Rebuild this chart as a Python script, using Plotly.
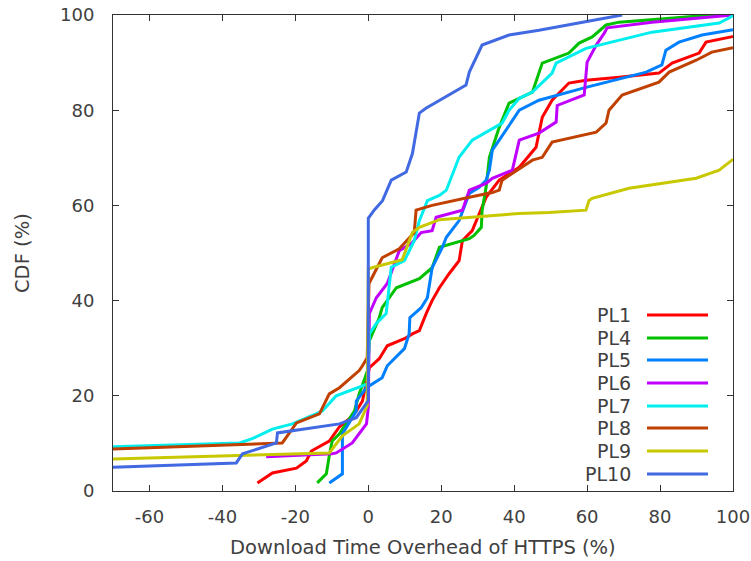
import plotly.graph_objects as go

# ---------------- data ----------------
series_names = ["PL1", "PL4", "PL5", "PL6", "PL7", "PL8", "PL9", "PL10"]
series_colors = ["#ff0000", "#00c000", "#0080ff", "#c000ff",
                 "#00eeee", "#c04000", "#c8c800", "#4169e1"]

pl1_x = [-30.4, -26.3, -19.7, -17.0, -15.6, -10.7, -7.9, -5.2, -3.3, -1.6, 0.3, 3.0, 5.2,
         9.9, 12.1, 14.0, 15.9, 17.5, 19.5, 22.2, 24.9, 25.8, 28.5, 30.4, 32.3, 35.9, 41.4,
         46.0, 47.7, 50.4, 55.0, 59.7, 68.8, 79.7, 83.3, 90.7, 92.6, 99.5, 100]
pl1_y = [1.7, 3.8, 4.8, 6.3, 8.4, 10.5, 13.5, 15.2, 16.8, 18.9, 25.9, 27.8, 30.5,
         32.0, 33.0, 33.7, 37.3, 40.0, 42.7, 45.7, 48.4, 52.6, 54.7, 58.3, 61.7, 65.3, 68.0,
         72.2, 78.5, 82.1, 85.7, 86.3, 86.9, 87.8, 89.9, 92.0, 94.3, 95.4, 95.5]

pl4_x = [-14.0, -11.5, -10.7, -9.9, -7.9, -6.0, -3.8, -2.5, -1.1, -0.2, 0.3, 3.0, 3.8,
         7.7, 14.0, 17.5, 19.5, 23.0, 27.7, 29.0, 31.0, 31.2, 32.3, 33.2, 35.9, 38.6, 41.4,
         45.0, 47.7, 55.0, 57.8, 61.4, 65.2, 68.8, 87.1, 95.3, 100]
pl4_y = [1.7, 3.6, 7.4, 10.5, 12.0, 14.1, 16.8, 20.4, 23.6, 25.3, 31.6, 36.4, 38.5,
         42.7, 44.6, 46.9, 51.2, 52.0, 53.0, 53.7, 55.4, 58.9, 63.8, 70.1, 76.4, 81.5, 82.5,
         83.8, 89.9, 92.0, 94.1, 95.4, 97.9, 98.5, 99.6, 100, 100]

pl5_x = [-10.7, -7.1, -7.1, -3.3, -3.3, -0.5, 3.8, 5.2, 9.9, 10.7, 11.2, 11.4, 14.5,
         16.2, 17.5, 20.3, 21.4, 24.9, 27.7, 30.4, 32.3, 33.2, 34.0, 35.9, 37.8, 41.4,
         46.8, 59.7, 76.2, 80.5, 81.6, 85.2, 91.5, 99.5, 100]
pl5_y = [1.7, 3.6, 12.0, 16.8, 18.9, 21.7, 23.8, 26.3, 29.9, 31.6, 33.0, 36.4, 38.5,
         40.6, 46.9, 51.2, 53.3, 56.8, 62.5, 63.8, 65.3, 67.4, 71.6, 73.7, 75.8, 80.0,
         82.1, 84.8, 88.0, 89.5, 92.6, 94.3, 95.8, 96.8, 96.9]

pl6_x = [-28.0, -10.0, -8.8, -4.4, -0.5, 0.0, 0.3, 2.2, 5.2, 8.5, 11.8, 14.5, 17.5,
         18.6, 25.8, 27.7, 32.3, 34.0, 39.5, 41.4, 46.8, 51.5, 51.8, 59.2, 60.0, 62.5,
         64.7, 65.5, 77.8, 98.9, 100]
pl6_y = [7.2, 7.8, 8.0, 10.1, 14.1, 17.5, 37.3, 40.6, 43.6, 50.5, 52.0, 54.3, 54.7,
         57.5, 59.0, 63.2, 64.6, 65.7, 67.4, 73.7, 75.2, 77.5, 81.0, 83.2, 90.1, 93.7,
         96.2, 97.3, 98.5, 100, 100]

pl7_x = [-70, -35.3, -31.8, -26.3, -20.8, -12.6, -8.8, -3.3, -1.6, -0.2, 0.3, 2.2, 4.9,
         5.5, 6.3, 9.9, 12.6, 14.0, 16.2, 19.5, 21.4, 24.9, 28.5, 36.7, 38.6, 41.4, 45.0,
         50.4, 51.5, 59.7, 68.8, 77.8, 96.2, 99.5, 100]
pl7_y = [9.3, 10.1, 11.0, 13.0, 14.1, 16.8, 20.0, 21.7, 22.1, 22.5, 33.0, 35.2, 37.3,
         42.0, 47.0, 48.4, 52.6, 56.8, 61.0, 62.1, 63.2, 70.1, 73.7, 77.3, 80.0, 82.5, 83.8,
         87.8, 89.9, 93.0, 94.7, 96.4, 98.3, 99.6, 100]

pl8_x = [-70, -35.3, -23.6, -22.2, -19.7, -13.4, -10.7, -7.9, -2.5, -1.6, -0.3, 0.2,
         3.8, 8.5, 12.6, 13.1, 17.5, 27.7, 34.0, 35.9, 36.7, 45.0, 47.7, 50.4, 62.5, 65.2,
         66.0, 69.6, 79.7, 82.5, 89.9, 94.2, 99.7, 100]
pl8_y = [8.8, 9.7, 10.1, 11.6, 14.3, 16.2, 20.4, 21.7, 25.3, 26.3, 28.0, 43.6,
         49.0, 50.9, 54.3, 59.0, 60.0, 61.7, 62.7, 63.2, 65.3, 69.5, 70.1, 73.3, 75.4, 77.3,
         80.0, 83.2, 85.9, 88.0, 90.5, 92.2, 93.0, 93.1]

pl9_x = [-70, -34.5, -10.7, -7.1, -2.5, -0.3, 0.0, 9.3, 12.1, 14.0, 19.5, 41.4, 49.6,
         59.7, 60.5, 61.4, 71.5, 89.9, 96.2, 99.7, 100]
pl9_y = [6.7, 7.4, 8.0, 11.6, 14.1, 17.9, 46.7, 48.6, 54.3, 55.4, 57.0, 58.3, 58.5,
         59.0, 61.0, 61.5, 63.6, 65.7, 67.4, 69.5, 69.6]

pl10_x = [-70, -36.2, -34.5, -25.2, -24.9, -7.9, -3.3, -0.5, 0.0, 0.0, 1.6, 3.9, 5.8,
          6.3, 10.4, 12.1, 14.0, 15.8, 26.8, 27.7, 31.2, 38.6, 46.8, 69.6]
pl10_y = [5.0, 5.9, 7.8, 10.1, 12.2, 14.1, 15.4, 18.3, 19.0, 57.3, 59.0, 61.0, 64.5,
          65.3, 67.0, 70.9, 79.4, 80.4, 85.3, 88.0, 93.7, 95.8, 96.8, 100]

series_x = [pl1_x, pl4_x, pl5_x, pl6_x, pl7_x, pl8_x, pl9_x, pl10_x]
series_y = [pl1_y, pl4_y, pl5_y, pl6_y, pl7_y, pl8_y, pl9_y, pl10_y]

x_ticks = [-60, -40, -20, 0, 20, 40, 60, 80, 100]
x_tick_labels = ["-60", "-40", "-20", "0", "20", "40", "60", "80", "100"]
y_ticks = [0, 20, 40, 60, 80, 100]
y_tick_labels = ["0", "20", "40", "60", "80", "100"]
x_title = "Download Time Overhead of HTTPS (%)"
y_title = "CDF (%)"

# ---------------- figure ----------------
FONT = "DejaVu Sans"
TXT = "#404040"
TICK_SIZE, TITLE_SIZE, LEG_SIZE = 18, 19.5, 19
W, H = 751, 561
ML, MR, MT, MB = 113, 18, 15, 70
PW, PH = W - ML - MR, H - MT - MB

fig = go.Figure()
for name, col, xs, ys in zip(series_names, series_colors, series_x, series_y):
    fig.add_trace(go.Scatter(x=xs, y=ys, mode="lines", name=name,
                             line=dict(color=col, width=3), showlegend=False))

axis_common = dict(showgrid=False, zeroline=False, showline=True, linecolor="#333333",
                   linewidth=1, mirror="ticks", ticks="inside", ticklen=6,
                   tickcolor="#333333", automargin=False,
                   tickfont=dict(family=FONT, size=TICK_SIZE, color=TXT))
fig.update_xaxes(range=[-70, 100], tickvals=x_ticks, ticktext=x_tick_labels,
                 ticklabelstandoff=9, **axis_common)
fig.update_yaxes(range=[0, 100], tickvals=y_ticks, ticktext=y_tick_labels,
                 ticklabelstandoff=14, **axis_common)

annotations = [
    dict(text=x_title, xref="paper", yref="paper", x=0.5, y=(-(547 - (MT + PH)) / PH),
         xanchor="center", yanchor="middle", showarrow=False,
         font=dict(family=FONT, size=TITLE_SIZE, color=TXT)),
    dict(text=y_title, xref="paper", yref="paper", x=(22 - ML) / PW, y=0.5,
         xanchor="center", yanchor="middle", textangle=-90, showarrow=False,
         font=dict(family=FONT, size=TITLE_SIZE, color=TXT)),
]
shapes = []
legend_rows_px = [315, 338, 360, 383, 406, 428, 451, 474]
for name, col, py in zip(series_names, series_colors, legend_rows_px):
    yp = (MT + PH - py) / PH
    annotations.append(dict(text=name, xref="paper", yref="paper", x=(633 - ML) / PW, y=yp,
                            xanchor="right", yanchor="middle", showarrow=False,
                            font=dict(family=FONT, size=LEG_SIZE, color=TXT)))
    shapes.append(dict(type="line", xref="paper", yref="paper",
                       x0=(647 - ML) / PW, x1=(708 - ML) / PW, y0=yp, y1=yp,
                       line=dict(color=col, width=3)))

fig.update_layout(width=W, height=H, margin=dict(l=ML, r=MR, t=MT, b=MB, autoexpand=False),
                  paper_bgcolor="white", plot_bgcolor="white",
                  annotations=annotations, shapes=shapes, showlegend=False)

fig.write_html("out.html", config={"displayModeBar": False},
               post_script="document.body.style.margin='0px';document.body.style.padding='0px';")
